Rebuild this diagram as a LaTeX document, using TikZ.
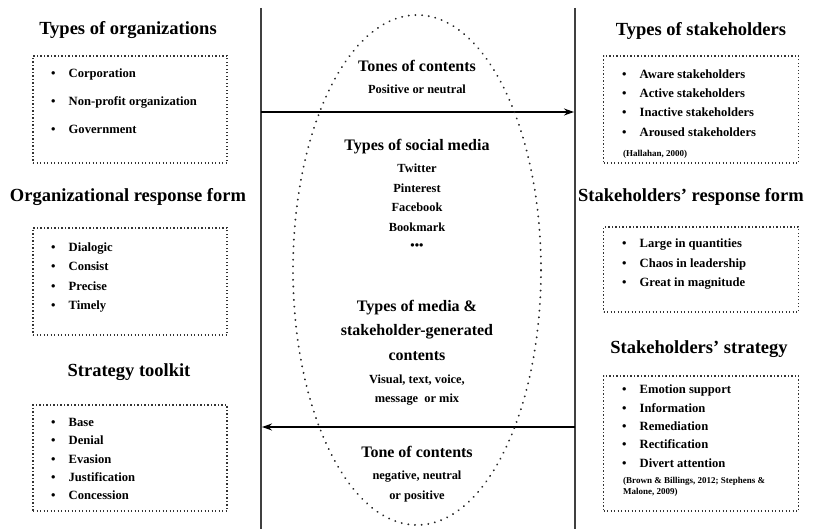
\documentclass[tikz,border=0pt]{standalone}
\usepackage{fontspec}
\setmainfont{Liberation Serif}
\usetikzlibrary{arrows.meta,positioning}

\newcommand{\bul}[1]{\makebox[17.5pt][l]{\textbullet}#1}

\tikzset{
  heading/.style={font=\bfseries\fontsize{18.5}{22}\selectfont, anchor=base},
  midhead/.style={font=\bfseries\fontsize{16}{20}\selectfont, anchor=base},
  midtext/.style={font=\bfseries\fontsize{12.4}{15}\selectfont, anchor=base},
  item/.style={font=\bfseries\fontsize{12.6}{15}\selectfont, anchor=base west, inner sep=0pt},
  source/.style={font=\bfseries\fontsize{9}{11}\selectfont, anchor=base west, inner sep=0pt},
  listbox/.style={draw=black!80, line width=1.3pt, dash pattern=on 1.3pt off 2.2pt, inner sep=0pt},
  divider/.style={draw=black!75, line width=1.8pt},
  flow/.style={-{Stealth[length=10pt,width=7pt]}, line width=1.4pt},
  oval/.style={draw=black!85, line width=2pt, dash pattern=on 0.1pt off 6.6pt, line cap=round}
}

\begin{document}
\begin{tikzpicture}[x=1pt, y=-1pt]
  \useasboundingbox (0,0) rectangle (820,529);

  % dividers and the two flows
  \coordinate (ltop) at (261,8);
  \coordinate (lbot) at (261,529);
  \coordinate (rtop) at (575,8);
  \coordinate (rbot) at (575,529);
  \coordinate (sendfrom) at (261,112);
  \coordinate (sendto) at (574,112);
  \coordinate (replyfrom) at (575,427);
  \coordinate (replyto) at (262,427);

  \draw[divider] (ltop) -- (lbot);
  \draw[divider] (rtop) -- (rbot);
  \draw[flow] (sendfrom) -- (sendto);
  \draw[flow] (replyfrom) -- (replyto);

  \draw[oval] (417,270) ellipse [x radius=124pt, y radius=255pt];

  % organization side
  \node[heading] (orgtitle) at (128,35) {Types of organizations};
  \node[listbox, minimum width=194pt, minimum height=107pt] (orgbox) at (130,109.5) {};
  \node[item] (org1) at (51,78) {\bul{Corporation}};
  \node[item] (org2) at (51,106) {\bul{Non-profit organization}};
  \node[item] (org3) at (51,134) {\bul{Government}};

  \node[heading] (formtitle) at (128,202) {Organizational response form};
  \node[listbox, minimum width=194pt, minimum height=107pt] (formbox) at (130,281.5) {};
  \node[item] (form1) at (51,252) {\bul{Dialogic}};
  \node[item] (form2) at (51,271) {\bul{Consist}};
  \node[item] (form3) at (51,290.5) {\bul{Precise}};
  \node[item] (form4) at (51,309.5) {\bul{Timely}};

  \node[heading] (kittitle) at (129,377) {Strategy toolkit};
  \node[listbox, minimum width=194pt, minimum height=106pt] (kitbox) at (130,458) {};
  \node[item] (kit1) at (51,427) {\bul{Base}};
  \node[item] (kit2) at (51,445) {\bul{Denial}};
  \node[item] (kit3) at (51,463.5) {\bul{Evasion}};
  \node[item] (kit4) at (51,482) {\bul{Justification}};
  \node[item] (kit5) at (51,500) {\bul{Concession}};

  % social media in the middle
  \node[midhead] (tones) at (417,72) {Tones of contents};
  \node[midtext] (tonesval) at (417,93.5) {Positive or neutral};
  \node[midhead] (media) at (417,151) {Types of social media};
  \node[midtext] (media1) at (417,172.5) {Twitter};
  \node[midtext] (media2) at (417,192.5) {Pinterest};
  \node[midtext] (media3) at (417,212) {Facebook};
  \node[midtext] (media4) at (417,231.5) {Bookmark};
  \node[midtext] (media5) at (417,249.5) {\textbullet\textbullet\textbullet};
  \node[midhead] (gen1) at (417,312) {Types of media \&};
  \node[midhead] (gen2) at (417,336) {stakeholder-generated};
  \node[midhead] (gen3) at (417,361) {contents};
  \node[midtext] (genval1) at (417,383.5) {Visual, text, voice,};
  \node[midtext] (genval2) at (417,403) {message\ \ or mix};
  \node[midhead] (tone) at (417,457) {Tone of contents};
  \node[midtext] (toneval1) at (417,479) {negative, neutral};
  \node[midtext] (toneval2) at (417,499.5) {or positive};

  % stakeholder side
  \node[heading] (holdtitle) at (701,36) {Types of stakeholders};
  \node[listbox, minimum width=195pt, minimum height=107pt] (holdbox) at (701,109.5) {};
  \node[item] (hold1) at (622,78.5) {\bul{Aware stakeholders}};
  \node[item] (hold2) at (622,97.5) {\bul{Active stakeholders}};
  \node[item] (hold3) at (622,117) {\bul{Inactive stakeholders}};
  \node[item] (hold4) at (622,136.5) {\bul{Aroused stakeholders}};
  \node[source] (holdsrc) at (623,156.5) {(Hallahan, 2000)};

  \node[heading] (replytitle) at (691,202) {Stakeholders' response form};
  \node[listbox, minimum width=195pt, minimum height=85pt] (replybox) at (701,269.5) {};
  \node[item] (reply1) at (622,247.5) {\bul{Large in quantities}};
  \node[item] (reply2) at (622,267.5) {\bul{Chaos in leadership}};
  \node[item] (reply3) at (622,287) {\bul{Great in magnitude}};

  \node[heading] (stratitle) at (699,354) {Stakeholders' strategy};
  \node[listbox, minimum width=195pt, minimum height=135pt] (strabox) at (701,443.5) {};
  \node[item] (stra1) at (622,394) {\bul{Emotion support}};
  \node[item] (stra2) at (622,412.5) {\bul{Information}};
  \node[item] (stra3) at (622,431) {\bul{Remediation}};
  \node[item] (stra4) at (622,449) {\bul{Rectification}};
  \node[item] (stra5) at (622,467.5) {\bul{Divert attention}};
  \node[source] (strasrc1) at (623,483.5) {(Brown \& Billings, 2012; Stephens \&};
  \node[source] (strasrc2) at (623,494.5) {Malone, 2009)};
\end{tikzpicture}
\end{document}
